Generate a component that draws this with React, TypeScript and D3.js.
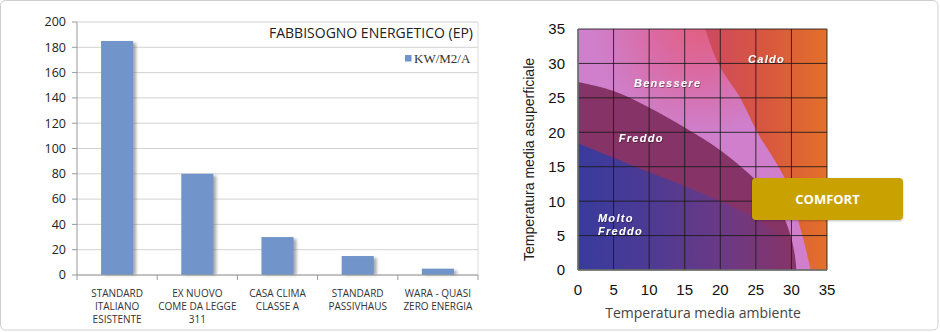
import React from "react";
import * as d3 from "d3";

// ---------- Left chart data ----------
const categories = [
  ["STANDARD", "ITALIANO", "ESISTENTE"],
  ["EX NUOVO", "COME DA LEGGE", "311"],
  ["CASA CLIMA", "CLASSE A"],
  ["STANDARD", "PASSIVHAUS"],
  ["WARA - QUASI", "ZERO ENERGIA"],
];
const values = [185, 80, 30, 15, 5];
const yTicks = [0, 20, 40, 60, 80, 100, 120, 140, 160, 180, 200];
const chartTitle = "FABBISOGNO ENERGETICO (EP)";
const legendLabel = "KW/M2/A";

// ---------- Right chart data ----------
const rTicks = [0, 5, 10, 15, 20, 25, 30, 35];
const caldoBoundary: [number, number][] = [
  [17.9, 35], [19.7, 30], [22.8, 25], [25.2, 20], [27.6, 16], [29.2, 13],
  [30.3, 10], [31.0, 7], [31.8, 4], [32.7, 0],
];
const freddoBoundary: [number, number][] = [
  [0, 27.3], [5, 26], [10, 23.6], [15, 20.7], [20, 17.4], [24, 14],
  [27, 10.8], [29, 7.5], [30, 4.5], [30.5, 2], [30.7, 0],
];
const moltoBoundary: [number, number][] = [
  [0, 18.4], [5, 16.3], [10, 14.2], [15, 12.2], [20, 10], [24, 8],
  [27.5, 5.5], [29.8, 3], [30.6, 0],
];
const zoneLabels = [
  { lines: ["Caldo"], x: 26.5, y: 30.6, anchor: "middle" },
  { lines: ["Benessere"], x: 12.6, y: 27.1, anchor: "middle" },
  { lines: ["Freddo"], x: 8.9, y: 19.2, anchor: "middle" },
  { lines: ["Molto", "Freddo"], x: 2.8, y: 7.6, anchor: "start" },
];
const xTitle = "Temperatura media ambiente";
const yTitle = "Temperatura media asuperficiale";
const comfortLabel = "COMFORT";

export default function App() {
  // left scales
  const xB = d3
    .scaleBand<number>()
    .domain(values.map((_, i) => i))
    .range([77, 478])
    .paddingInner(0.6)
    .paddingOuter(0.3);
  const yL = d3.scaleLinear().domain([0, 200]).range([275, 22]);
  const step = xB.step();
  const bounds = d3.range(values.length + 1).map((i) => 77 + i * ((478 - 77) / values.length));

  // right scales
  const xR = d3.scaleLinear().domain([0, 35]).range([578, 827]);
  const yR = d3.scaleLinear().domain([0, 35]).range([270, 29]);
  const curve = d3
    .line<[number, number]>()
    .x((d) => xR(d[0]))
    .y((d) => yR(d[1]))
    .curve(d3.curveCatmullRom.alpha(0.5));
  const P = (x: number, y: number) => `L${xR(x)},${yR(y)}`;

  const benPath = `M${xR(0)},${yR(35)}L${xR(17.9)},${yR(35)}` + curve(caldoBoundary)!.replace(/^M/, "L") + P(0, 0) + "Z";
  const fredPath = `M${xR(0)},${yR(0)}` + curve(freddoBoundary)!.replace(/^M/, "L") + "Z";
  const moltoPath = `M${xR(0)},${yR(0)}` + curve(moltoBoundary)!.replace(/^M/, "L") + "Z";

  const sans = "'Open Sans', sans-serif";
  const arial = "'Liberation Sans', Arial, sans-serif";

  return (
    <svg width={940} height={332} style={{ position: "absolute", left: 0, top: 0 }} xmlns="http://www.w3.org/2000/svg">
      <defs>
        <filter id="blur" x="-50%" y="-50%" width="200%" height="200%">
          <feGaussianBlur stdDeviation="1.6" />
        </filter>
        <filter id="tshadow" x="-20%" y="-40%" width="140%" height="180%">
          <feDropShadow dx="0.6" dy="0.8" stdDeviation="0.6" floodColor="#000" floodOpacity="0.45" />
        </filter>
        <filter id="boxshadow" x="-10%" y="-20%" width="120%" height="150%">
          <feDropShadow dx="0" dy="1" stdDeviation="1" floodColor="#000" floodOpacity="0.25" />
        </filter>
        <linearGradient id="caldo" gradientUnits="userSpaceOnUse" x1={xR(18)} y1={0} x2={xR(35)} y2={0}>
          <stop offset="0" stopColor="#cd4a60" />
          <stop offset="0.5" stopColor="#d8573f" />
          <stop offset="1" stopColor="#e3702a" />
        </linearGradient>
        <radialGradient id="ben" gradientUnits="userSpaceOnUse" cx={xR(17.5)} cy={yR(36)} r={110}>
          <stop offset="0" stopColor="#e25f7c" />
          <stop offset="0.45" stopColor="#da6aa2" />
          <stop offset="1" stopColor="#cf7fcb" />
        </radialGradient>
        <linearGradient id="molto" gradientUnits="userSpaceOnUse" x1={xR(0)} y1={0} x2={xR(30)} y2={0}>
          <stop offset="0" stopColor="#383b9d" />
          <stop offset="0.35" stopColor="#4e3a93" />
          <stop offset="0.7" stopColor="#6d3984" />
          <stop offset="1" stopColor="#853469" />
        </linearGradient>
      </defs>

      {/* outer frame */}
      <rect x={0.5} y={0.5} width={937.5} height={329.5} rx={5} fill="#fff" stroke="#cfcfcf" />

      {/* ---------- LEFT CHART ---------- */}
      <g>
        {yTicks.map((t) => (
          <line key={t} x1={77} x2={478} y1={yL(t)} y2={yL(t)} stroke="#d2d2d2" strokeWidth={1} />
        ))}
        <line x1={478} x2={478} y1={yL(200)} y2={yL(0)} stroke="#dcdcdc" />
        {yTicks.map((t) => (
          <g key={"yt" + t}>
            <line x1={72} x2={77} y1={yL(t)} y2={yL(t)} stroke="#9a9a9a" />
            <text x={66} y={yL(t)} dy="0.35em" textAnchor="end" fontFamily={sans} fontSize={12.5} fill="#222">
              {t}
            </text>
          </g>
        ))}
        <line x1={77} x2={77} y1={yL(200)} y2={yL(0)} stroke="#9a9a9a" />
        {values.map((v, i) => (
          <g key={"b" + i}>
            <rect
              x={xB(i)! + 3}
              y={yL(v) + 2}
              width={xB.bandwidth()}
              height={yL(0) - yL(v) - 2}
              fill="#666"
              opacity={0.55}
              filter="url(#blur)"
            />
            <rect x={xB(i)!} y={yL(v)} width={xB.bandwidth()} height={yL(0) - yL(v)} fill="#7195ca" />
          </g>
        ))}
        <line x1={77} x2={478} y1={yL(0)} y2={yL(0)} stroke="#9a9a9a" />
        {bounds.map((b, i) => (
          <line key={"xt" + i} x1={b} x2={b} y1={yL(0)} y2={yL(0) + 5} stroke="#9a9a9a" />
        ))}
        {categories.map((lines, i) => (
          <text key={"c" + i} textAnchor="middle" fontFamily={sans} fontSize={10} fill="#333">
            {lines.map((l, j) => (
              <tspan key={j} x={xB(i)! + xB.bandwidth() / 2} y={297 + j * 13}>
                {l}
              </tspan>
            ))}
          </text>
        ))}
        <text x={473} y={38} textAnchor="end" fontFamily={sans} fontSize={14} fill="#222">
          {chartTitle}
        </text>
        <rect x={405} y={55} width={6.5} height={6.5} fill="#7195ca" />
        <text x={414} y={63} fontFamily="'Liberation Serif', 'DejaVu Serif', serif" fontSize={13} fill="#333">
          {legendLabel}
        </text>
      </g>

      {/* ---------- RIGHT CHART ---------- */}
      <g>
        <rect x={xR(0)} y={yR(35)} width={xR(35) - xR(0)} height={yR(0) - yR(35)} fill="url(#caldo)" />
        <path d={benPath} fill="url(#ben)" />
        <path d={fredPath} fill="#863367" />
        <path d={moltoPath} fill="url(#molto)" />
        {rTicks.map((t) => (
          <g key={"g" + t}>
            <line x1={xR(t)} x2={xR(t)} y1={yR(0)} y2={yR(35)} stroke="#1a1a1a" strokeOpacity={0.85} />
            <line x1={xR(0)} x2={xR(35)} y1={yR(t)} y2={yR(t)} stroke="#1a1a1a" strokeOpacity={0.85} />
          </g>
        ))}
        <line x1={xR(0)} x2={xR(35)} y1={yR(0)} y2={yR(0)} stroke="#777" strokeWidth={1.5} />
        <line x1={xR(0)} x2={xR(0)} y1={yR(0)} y2={yR(35)} stroke="#777" strokeWidth={1.5} />
        {zoneLabels.map((z, i) => (
          <text
            key={"z" + i}
            textAnchor={z.anchor as any}
            fontFamily={arial}
            fontWeight="bold"
            fontStyle="italic"
            fontSize={11}
            letterSpacing={1.3}
            fill="#fff"
            filter="url(#tshadow)"
          >
            {z.lines.map((l, j) => (
              <tspan key={j} x={xR(z.x)} y={yR(z.y) + 4 + j * 13.5}>
                {l}
              </tspan>
            ))}
          </text>
        ))}
        {rTicks.map((t) => (
          <text key={"yl" + t} x={565} y={yR(t)} dy="0.36em" textAnchor="end" fontFamily={arial} fontSize={15} fill="#111">
            {t}
          </text>
        ))}
        {rTicks.map((t) => (
          <text key={"xl" + t} x={xR(t)} y={295} textAnchor="middle" fontFamily={arial} fontSize={15} fill="#111">
            {t}
          </text>
        ))}
        <text x={703} y={318} textAnchor="middle" fontFamily={sans} fontSize={14} fill="#444">
          {xTitle}
        </text>
        <text
          transform={`translate(534,${(yR(0) + yR(35)) / 2 + 10}) rotate(-90)`}
          textAnchor="middle"
          fontFamily={arial}
          fontSize={14}
          fill="#222"
        >
          {yTitle}
        </text>
        <rect x={752} y={178} width={151} height={42} rx={4} fill="#c9a100" filter="url(#boxshadow)" />
        <text x={827.5} y={204} textAnchor="middle" fontFamily={sans} fontWeight="bold" fontSize={13} fill="#fff">
          {comfortLabel}
        </text>
      </g>
    </svg>
  );
}
